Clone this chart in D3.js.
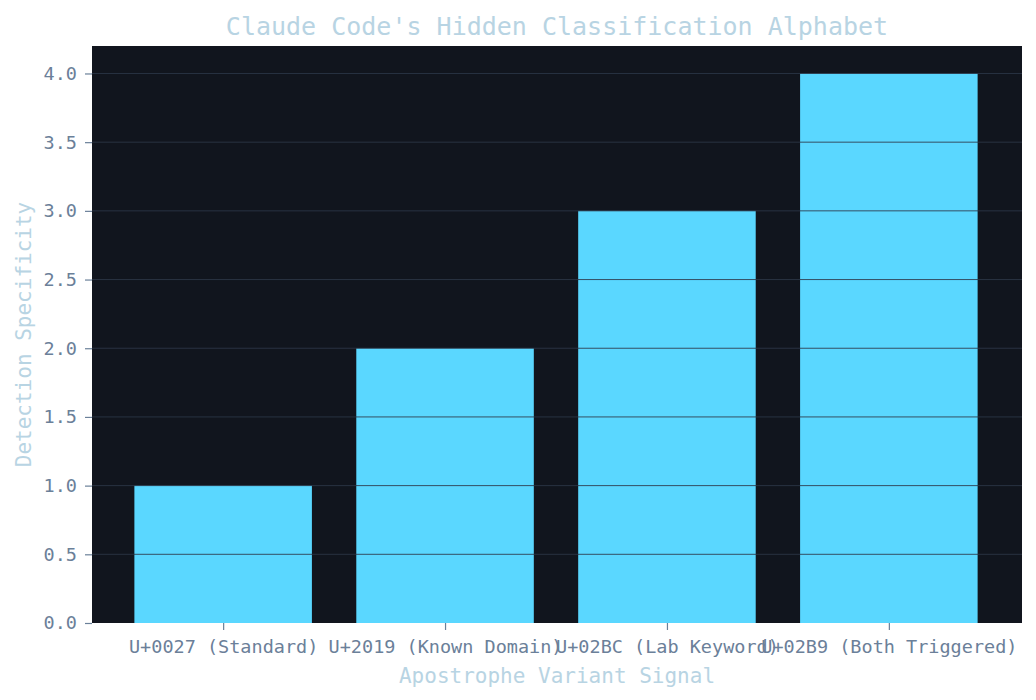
<!DOCTYPE html>
<html>
<head>
<meta charset="utf-8">
<script src="https://cdn.jsdelivr.net/npm/d3@7"></script>
<style>
  body { margin: 0; background: #ffffff; }
  svg { display: block; }
  text { font-family: "DejaVu Sans Mono", monospace; }
</style>
</head>
<body>
<div id="chart"></div>
<script>
// chart data
const categories = ['U+0027 (Standard)', 'U+2019 (Known Domain)', 'U+02BC (Lab Keyword)', 'U+02B9 (Both Triggered)'];
const specificity = [1, 2, 3, 4];
const yTicks = [0, 0.5, 1, 1.5, 2, 2.5, 3, 3.5, 4];

const width = 1036, height = 700;
const plot = { left: 92, right: 1022, top: 46, bottom: 623 };

const svg = d3.select('#chart').append('svg')
    .attr('width', width)
    .attr('height', height);

// x runs over the category index, like matplotlib's categorical axis
const x = d3.scaleLinear()
    .domain([-0.6, categories.length - 0.4])
    .range([plot.left - 2, plot.right]);
const y = d3.scaleLinear()
    .domain([0, 4.2])
    .range([plot.bottom, plot.top]);
const barWidth = x(0.8) - x(0);

// plot background
svg.append('rect')
    .attr('x', plot.left)
    .attr('y', plot.top)
    .attr('width', plot.right - plot.left)
    .attr('height', plot.bottom - plot.top)
    .attr('fill', '#11151e');

// bars
svg.append('g')
    .selectAll('rect')
    .data(specificity)
    .enter().append('rect')
    .attr('x', (d, i) => x(i) - barWidth / 2)
    .attr('y', d => y(d))
    .attr('width', barWidth)
    .attr('height', d => y(0) - y(d))
    .attr('fill', '#5ad7ff');

// gridlines sit on top of the bars (none visible at zero)
svg.append('g')
    .selectAll('line')
    .data(yTicks.filter(d => d > 0))
    .enter().append('line')
    .attr('x1', plot.left)
    .attr('x2', plot.right)
    .attr('y1', d => y(d))
    .attr('y2', d => y(d))
    .attr('stroke', '#2d3748')
    .attr('stroke-opacity', 0.85)
    .attr('stroke-width', 1);

// y axis
const yAxis = svg.append('g')
    .attr('transform', `translate(${plot.left},0)`)
    .call(d3.axisLeft(y).tickValues(yTicks).tickFormat(d3.format('.1f')).tickSize(7).tickPadding(8));
yAxis.select('.domain').remove();
yAxis.selectAll('line').attr('stroke', '#6b8099').attr('stroke-width', 1.2);
yAxis.selectAll('text')
    .attr('fill', '#6b8099')
    .style('font-size', '18.5px')
    .style('font-family', '"DejaVu Sans Mono", monospace');

// x axis
const xAxis = svg.append('g')
    .attr('transform', `translate(0,${plot.bottom})`)
    .call(d3.axisBottom(x).tickValues(d3.range(categories.length)).tickFormat(i => categories[i]).tickSize(7).tickPadding(10));
xAxis.select('.domain').remove();
xAxis.selectAll('line').attr('stroke', '#6b8099').attr('stroke-width', 1.2);
xAxis.selectAll('text')
    .attr('fill', '#6b8099')
    .style('font-size', '18.5px')
    .style('font-family', '"DejaVu Sans Mono", monospace');

// title and axis labels
svg.append('text')
    .attr('x', (plot.left + plot.right) / 2)
    .attr('y', 35)
    .attr('text-anchor', 'middle')
    .attr('fill', '#b8d4e3')
    .style('font-size', '25px')
    .text("Claude Code's Hidden Classification Alphabet");

svg.append('text')
    .attr('x', (plot.left + plot.right) / 2)
    .attr('y', 683)
    .attr('text-anchor', 'middle')
    .attr('fill', '#b8d4e3')
    .style('font-size', '21px')
    .text('Apostrophe Variant Signal');

svg.append('text')
    .attr('transform', `translate(31,${(plot.top + plot.bottom) / 2}) rotate(-90)`)
    .attr('text-anchor', 'middle')
    .attr('fill', '#b8d4e3')
    .style('font-size', '21px')
    .text('Detection Specificity');
</script>
</body>
</html>
